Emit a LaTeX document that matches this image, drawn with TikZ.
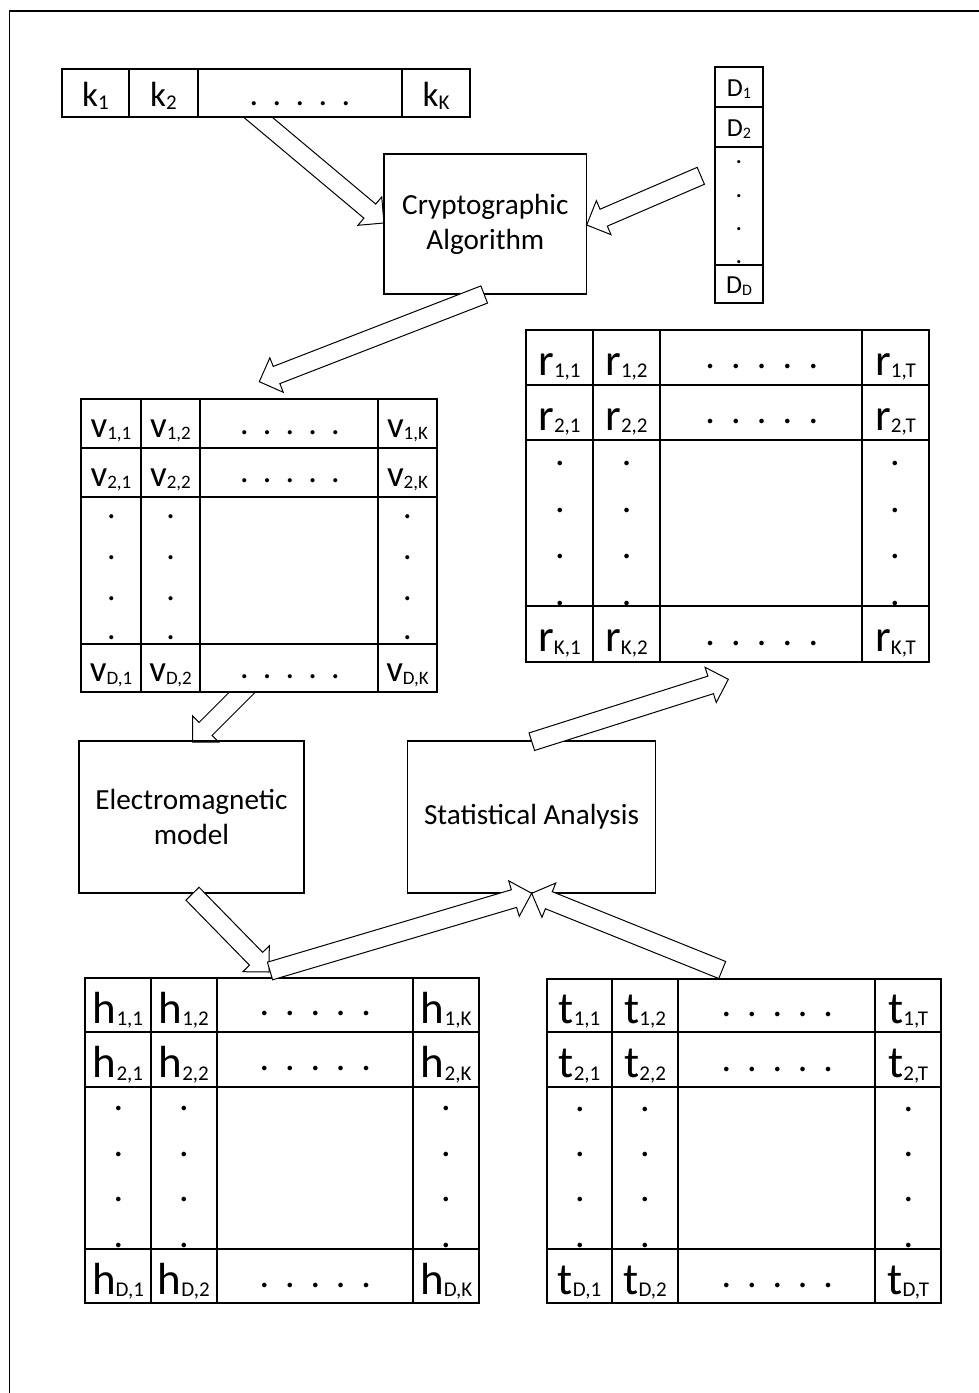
\documentclass[tikz,border=0pt]{standalone}
\usepackage{fontspec}
\setmainfont{Carlito}
\usetikzlibrary{calc}
\newcommand\lb[3]{#2\raisebox{-1.4pt}{\fontsize{#1}{#1}\selectfont #3}}
\newcommand\blockarr[2]{%
  \coordinate (bn) at ($(#2)!9.25pt!(#1)$);
  \draw[barrow] ($(#1)!4.6pt!90:(#2)$) -- ($(bn)!4.6pt!90:(#2)$) -- ($(bn)!9.25pt!90:(#2)$) -- (#2)
     -- ($(bn)!9.25pt!-90:(#2)$) -- ($(bn)!4.6pt!-90:(#2)$) -- ($(#1)!4.6pt!-90:(#2)$) -- cycle;
}
\tikzset{
  mline/.style={line width=1pt},
  kline/.style={line width=0.9pt},
  dline/.style={line width=0.7pt},
  boxs/.style={draw, line width=0.6pt, inner sep=0pt, align=center, font=\fontsize{14.6}{17.5}\selectfont},
  barrow/.style={draw, fill=white, line width=0.5pt, line join=miter},
  frameline/.style={line width=0.75pt},
  labk/.style={anchor=base, inner sep=0pt, font=\fontsize{17.5}{17.5}\selectfont},
  labD/.style={anchor=base, inner sep=0pt, font=\fontsize{13}{13}\selectfont},
  labv/.style={anchor=base, inner sep=0pt, font=\fontsize{18.5}{18.5}\selectfont},
  labr/.style={anchor=base, inner sep=0pt, font=\fontsize{22.5}{22.5}\selectfont},
  dotb/.style={inner sep=0pt, anchor=center, font=\fontsize{19}{19}\selectfont},
  dotm/.style={inner sep=0pt, anchor=center, font=\fontsize{17}{17}\selectfont},
  dots/.style={inner sep=0pt, anchor=center, font=\fontsize{13}{13}\selectfont},
}
\begin{document}
\begin{tikzpicture}[x=0.5pt, y=-0.5pt]
\useasboundingbox (0,0) rectangle (979,1393);
% frame
\draw[frameline] (979,11) -- (9.5,11) -- (9.5,1393);

% arrow k-row -> crypto (tail hidden under k row)
\coordinate (a1t) at (246.1,107.3);
\coordinate (a1h) at (384,223);
\blockarr{a1t}{a1h}

% k row
\draw[kline, fill=white] (62,69) rectangle (470,117);
\foreach \x in {129,198,402} \draw[kline] (\x,69) -- (\x,117);
\node[labk] (k1) at (95.5,106.7) {\lb{10.5}{k}{1}};
\node[labk] (k2) at (163.5,106.7) {\lb{10.5}{k}{2}};
\node[labk] (kK) at (436,106.7) {\lb{10.5}{k}{K}};
\foreach \x [count=\i] in {254,277,300,323,346} \node[dotm] (kd\i) at (\x,103.3) {.};

% D column
\draw[dline, fill=white] (715,67) rectangle (763,303);
\foreach \y in {107,147,265} \draw[dline] (715,\y) -- (763,\y);
\node[labD] (D1) at (739,96) {\lb{8}{D}{1}};
\node[labD] (D2) at (739,136) {\lb{8}{D}{2}};
\node[labD] (DD) at (739,293) {\lb{8}{D}{D}};
\foreach \y [count=\i] in {162,196,229,262} \node[dots] (Dd\i) at (739,\y) {.};

% crypto box
\node[boxs, minimum width=101.35pt, minimum height=70pt] (crypto) at (485.35,224) {Cryptographic\\Algorithm};

% arrows D -> crypto, crypto -> v
\coordinate (a2t) at (700.8,175.8);
\coordinate (a2h) at (586.7,225);
\blockarr{a2t}{a2h}
\coordinate (a3t) at (484.2,294.5);
\coordinate (a3h) at (259.3,381.7);
\blockarr{a3t}{a3h}

% arrow v -> EM (tail hidden under v)
\coordinate (a4t) at (252.6,681.9);
\coordinate (a4h) at (192.5,742);
\blockarr{a4t}{a4h}

% v matrix
\draw[mline, fill=white] (81,399) rectangle (437,692);
\foreach \x in {141,200,378} \draw[mline] (\x,399) -- (\x,692);
\foreach \y in {448,497,644} \draw[mline] (81,\y) -- (437,\y);
\foreach \r/\yy in {1/437,2/486,D/681.5}{
  \node[labv] (v\r1) at (111,\yy) {\lb{9.5}{v}{\r,1}};
  \node[labv] (v\r2) at (170.5,\yy) {\lb{9.5}{v}{\r,2}};
  \node[labv] (v\r K) at (407.5,\yy) {\lb{9.5}{v}{\r,K}};
}
\foreach \yy [count=\j] in {432.7,480.7,676.7}
  \foreach \x [count=\i] in {244.4,267.2,289.9,312.7,335.4} \node[dotm] (vh\j\i) at (\x,\yy) {.};
\foreach \x [count=\j] in {111.5,170.6,407.4}
  \foreach \yy [count=\i] in {517,558,599,638} \node[dotm] (vv\j\i) at (\x,\yy) {.};

% r matrix
\draw[mline, fill=white] (526,330) rectangle (929.3,661.7);
\foreach \x in {592.7,660,861.7} \draw[mline] (\x,330) -- (\x,661.7);
\foreach \y in {385,440,606} \draw[mline] (526,\y) -- (929.3,\y);
\foreach \r/\yy in {1/375,2/430,K/651.5}{
  \node[labr] (r\r1) at (559.5,\yy) {\lb{10.5}{r}{\r,1}};
  \node[labr] (r\r2) at (626.5,\yy) {\lb{10.5}{r}{\r,2}};
  \node[labr] (r\r T) at (895.5,\yy) {\lb{10.5}{r}{\r,T}};
}
\foreach \yy [count=\j] in {366.7,421.7,643.3}
  \foreach \x [count=\i] in {710.1,735.9,761.7,787.5,813.3} \node[dotb] (rh\j\i) at (\x,\yy) {.};
\foreach \x [count=\j] in {560,626.7,895}
  \foreach \yy [count=\i] in {463.3,510,556.7,603.3} \node[dotb] (rv\j\i) at (\x,\yy) {.};

% EM and Stat boxes
\node[boxs, minimum width=112.5pt, minimum height=76pt] (em) at (191.5,817) {Electromagnetic\\model};
\node[boxs, minimum width=124pt, minimum height=76pt] (stat) at (531.5,817) {Statistical Analysis};

% arrows EM -> h, stat -> r
\coordinate (a5t) at (192.5,893.7);
\coordinate (a5h) at (269,972);
\blockarr{a5t}{a5h}
\coordinate (a8t) at (531.8,741.7);
\coordinate (a8h) at (728.3,679.3);
\blockarr{a8t}{a8h}

% h matrix
\draw[mline, fill=white] (85,978) rectangle (479,1302.7);
\foreach \x in {150.7,216.7,413.3} \draw[mline] (\x,978) -- (\x,1302.7);
\foreach \y in {1031.7,1086.7,1248.7} \draw[mline] (85,\y) -- (479,\y);
\foreach \r/\yy in {1/1023,2/1077.5,D/1294}{
  \node[labr] (h\r1) at (118,\yy) {\lb{10.5}{h}{\r,1}};
  \node[labr] (h\r2) at (183.7,\yy) {\lb{10.5}{h}{\r,2}};
  \node[labr] (h\r K) at (446.2,\yy) {\lb{10.5}{h}{\r,K}};
}
\foreach \yy [count=\j] in {1013.3,1068.3,1285}
  \foreach \x [count=\i] in {264.5,289.9,315.3,340.7,366.1} \node[dotb] (hh\j\i) at (\x,\yy) {.};
\foreach \x [count=\j] in {118.3,184,446}
  \foreach \yy [count=\i] in {1108.3,1154,1199.3,1245} \node[dotb] (hv\j\i) at (\x,\yy) {.};

% t matrix
\draw[mline, fill=white] (546.7,979) rectangle (941,1303);
\foreach \x in {612.3,678,875.3} \draw[mline] (\x,979) -- (\x,1303);
\foreach \y in {1032,1087,1249} \draw[mline] (546.7,\y) -- (941,\y);
\foreach \r/\yy in {1/1023,2/1077.5,D/1294}{
  \node[labr] (t\r1) at (579.5,\yy) {\lb{10.5}{t}{\r,1}};
  \node[labr] (t\r2) at (645.2,\yy) {\lb{10.5}{t}{\r,2}};
  \node[labr] (t\r T) at (908.2,\yy) {\lb{10.5}{t}{\r,T}};
}
\foreach \yy [count=\j] in {1014,1069,1285}
  \foreach \x [count=\i] in {726.5,751.9,777.3,802.7,828.1} \node[dotb] (th\j\i) at (\x,\yy) {.};
\foreach \x [count=\j] in {580,645,908.3}
  \foreach \yy [count=\i] in {1109,1154.3,1199.3,1245} \node[dotb] (tv\j\i) at (\x,\yy) {.};

% arrows h -> stat, t -> stat
\coordinate (a6t) at (270,971);
\coordinate (a6h) at (531.7,893.3);
\blockarr{a6t}{a6h}
\coordinate (a7t) at (722.2,970);
\coordinate (a7h) at (531.7,893.3);
\blockarr{a7t}{a7h}
\end{tikzpicture}
\end{document}
